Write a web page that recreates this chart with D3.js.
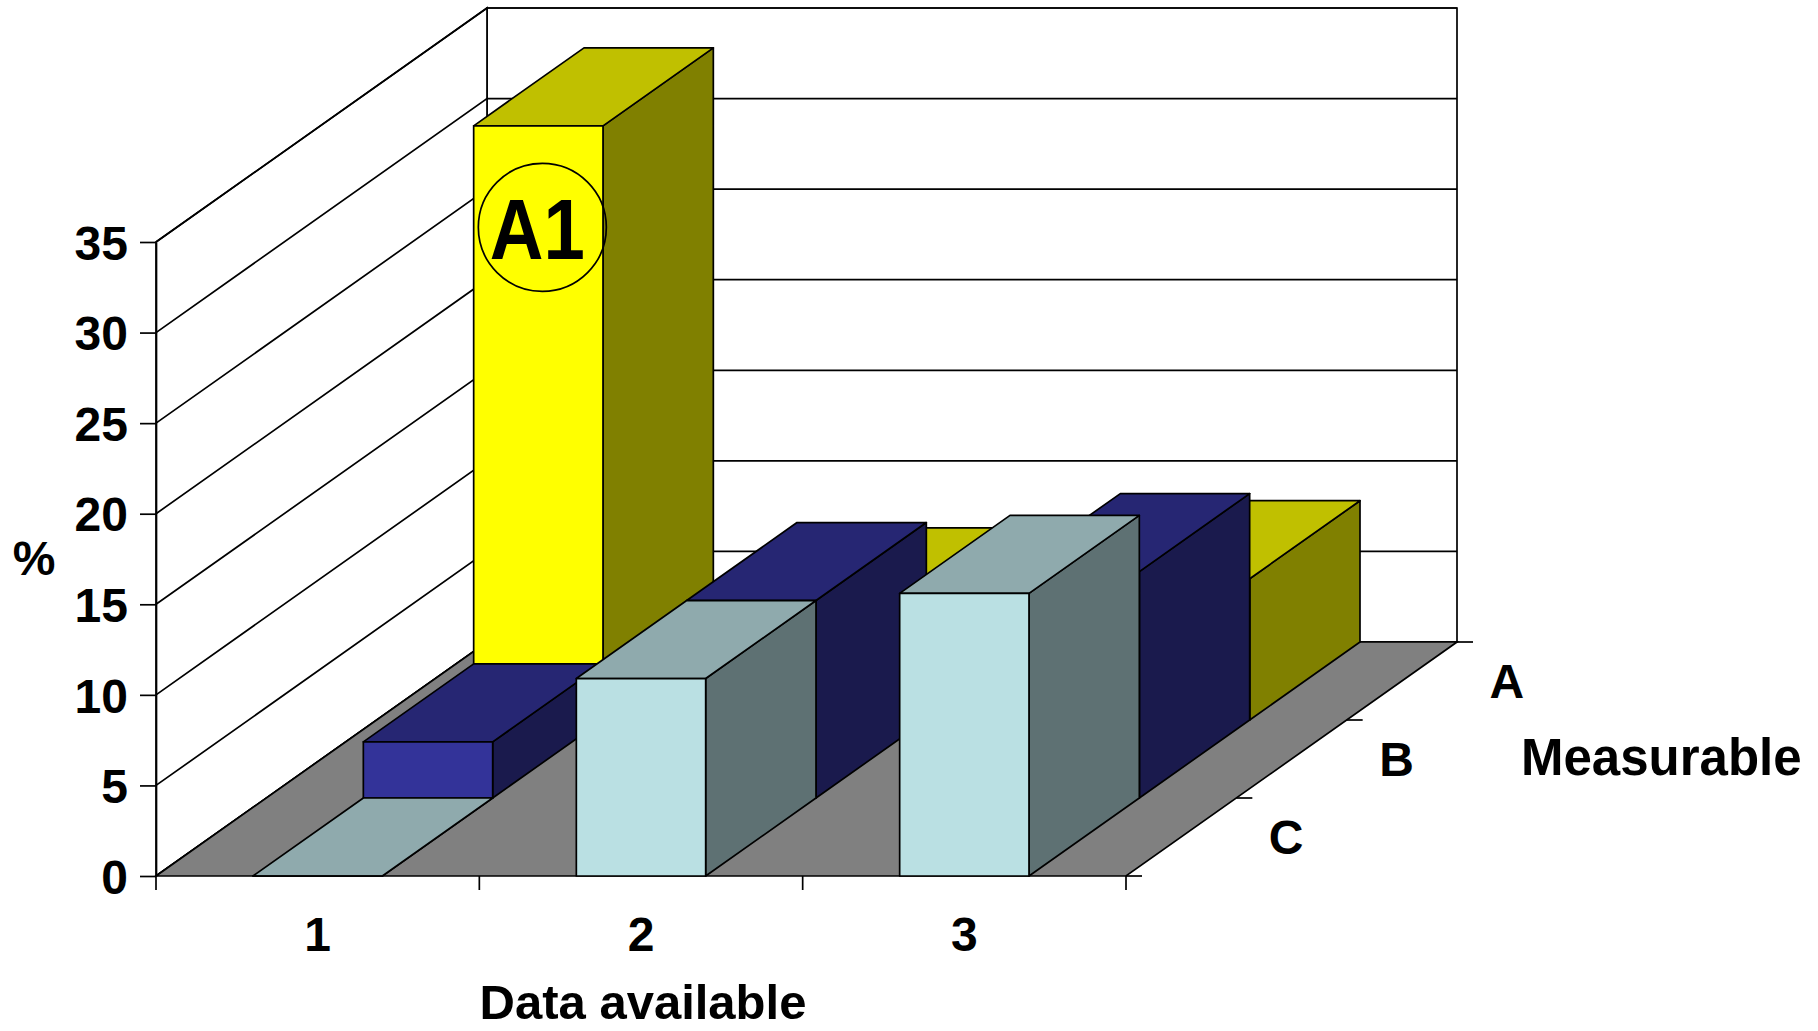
<!DOCTYPE html>
<html>
<head>
<meta charset="utf-8">
<script src="https://cdn.jsdelivr.net/npm/d3@7"></script>
<style>
  html, body { margin: 0; padding: 0; background: #fff; }
  svg { display: block; }
  text { font-family: Arial, "Liberation Sans", sans-serif; font-weight: bold; fill: #000; }
</style>
</head>
<body>
<svg id="chart" width="1818" height="1031"></svg>
<script>
// Categories along the front axis and the three rows along the depth axis
const categories = ["1", "2", "3"];
const rows = ["A", "B", "C"];            // back row first
const seriesA = [32.8, 6.3, 7.8];
const seriesB = [3.1, 10.9, 12.5];
const seriesC = [0, 10.9, 15.6];
const yTickValues = [0, 5, 10, 15, 20, 25, 30, 35];
const yAxisTitle = "%";
const xAxisTitle = "Data available";
const zAxisTitle = "Measurable";
const calloutText = "A1";
const calloutLevel = 27.2;               // height on the A1 bar where the callout sits

const seriesByRow = { A: seriesA, B: seriesB, C: seriesC };

const palette = {
  A: { front: "#ffff00", top: "#c0c000", side: "#808000" },
  B: { front: "#333399", top: "#262673", side: "#1a1a4d" },
  C: { front: "#bae0e3", top: "#8faaad", side: "#5e7173" }
};

// Oblique 3-D frame
const frontLeft = 156, frontRight = 1126, baseY = 876;
const depthDX = 331, depthDY = -234;
const wallHeight = 634;
const lineW = 1.7;

const svg = d3.select("#chart");

const xCell = d3.scaleBand().domain(categories).range([frontLeft, frontRight]);
const xBar = d3.scaleBand().domain(categories).range([frontLeft, frontRight])
  .paddingInner(0.6).paddingOuter(0.3);
const zRow = d3.scaleBand().domain(["C", "B", "A"]).range([0, 1]);
const yH = d3.scaleLinear().domain([0, 35]).range([0, wallHeight]);
const yPos = d3.scaleLinear().domain([0, 35]).range([baseY, baseY - wallHeight]);

const proj = (x, d, v) => [x + depthDX * d, baseY + depthDY * d - yH(v)];
const poly = pts => "M" + pts.map(p => p.join(",")).join("L") + "Z";

// Walls
const walls = svg.append("g");
walls.append("path")
  .attr("d", poly([proj(frontLeft, 1, 0), proj(frontRight, 1, 0), proj(frontRight, 1, 35), proj(frontLeft, 1, 35)]))
  .attr("fill", "#fff").attr("stroke", "#000").attr("stroke-width", lineW);
walls.append("path")
  .attr("d", poly([proj(frontLeft, 0, 0), proj(frontLeft, 1, 0), proj(frontLeft, 1, 35), proj(frontLeft, 0, 35)]))
  .attr("fill", "#fff").attr("stroke", "#000").attr("stroke-width", lineW);

// Gridlines on both walls
const grid = svg.append("g").attr("stroke", "#000").attr("stroke-width", lineW).attr("fill", "none");
yTickValues.forEach(v => {
  grid.append("path").attr("d", "M" + proj(frontLeft, 0, v) + "L" + proj(frontLeft, 1, v) + "L" + proj(frontRight, 1, v));
});

// Floor
svg.append("path")
  .attr("d", poly([proj(frontLeft, 0, 0), proj(frontRight, 0, 0), proj(frontRight, 1, 0), proj(frontLeft, 1, 0)]))
  .attr("fill", "#808080").attr("stroke", "#000").attr("stroke-width", lineW);

// Bars, drawn from the back row to the front row
const bars = [];
rows.forEach(r => categories.forEach((c, i) => bars.push({ row: r, cat: c, value: seriesByRow[r][i] })));

const barG = svg.append("g").attr("stroke", "#000").attr("stroke-width", lineW).attr("stroke-linejoin", "round");
bars.forEach(b => {
  const x0 = xBar(b.cat), x1 = x0 + xBar.bandwidth();
  const d0 = zRow(b.row), d1 = d0 + zRow.bandwidth();
  const v = b.value, col = palette[b.row];
  const g = barG.append("g");
  g.append("path").attr("fill", col.side)
    .attr("d", poly([proj(x1, d0, 0), proj(x1, d1, 0), proj(x1, d1, v), proj(x1, d0, v)]));
  g.append("path").attr("fill", col.top)
    .attr("d", poly([proj(x0, d0, v), proj(x1, d0, v), proj(x1, d1, v), proj(x0, d1, v)]));
  g.append("path").attr("fill", col.front)
    .attr("d", poly([proj(x0, d0, 0), proj(x1, d0, 0), proj(x1, d0, v), proj(x0, d0, v)]));
});

// Value axis
const yAxis = svg.append("g")
  .attr("transform", `translate(${frontLeft},0)`)
  .call(d3.axisLeft(yPos).tickValues(yTickValues).tickSize(16).tickSizeOuter(0).tickPadding(12).tickFormat(d3.format("d")));
yAxis.select(".domain").attr("stroke", "#000").attr("stroke-width", lineW);
yAxis.selectAll(".tick line").attr("stroke", "#000").attr("stroke-width", lineW);
yAxis.selectAll(".tick text").style("font-size", "48px").attr("dy", "0.36em");
yAxis.attr("font-family", null).attr("font-size", null);

// Category axis: labels centred under each cell, ticks at cell boundaries
const xAxis = svg.append("g")
  .attr("transform", `translate(0,${baseY})`)
  .call(d3.axisBottom(xCell).tickSize(0).tickPadding(41));
xAxis.select(".domain").remove();
xAxis.selectAll(".tick text").style("font-size", "48px");
xAxis.attr("font-family", null).attr("font-size", null);
const edges = categories.map(c => xCell(c)).concat([frontRight]);
svg.append("g").selectAll("line").data(edges).join("line")
  .attr("x1", d => d).attr("x2", d => d).attr("y1", baseY).attr("y2", baseY + 14)
  .attr("stroke", "#000").attr("stroke-width", lineW);

// Depth axis: ticks at row boundaries along the right floor edge
const zEdges = [0, 1 / 3, 2 / 3, 1];
svg.append("g").selectAll("line").data(zEdges).join("line")
  .attr("x1", d => proj(frontRight, d, 0)[0]).attr("x2", d => proj(frontRight, d, 0)[0] + 16)
  .attr("y1", d => proj(frontRight, d, 0)[1]).attr("y2", d => proj(frontRight, d, 0)[1])
  .attr("stroke", "#000").attr("stroke-width", lineW);
svg.append("g").selectAll("text").data(rows).join("text")
  .attr("x", r => proj(frontRight, zRow(r) + zRow.bandwidth() / 2, 0)[0] + 105)
  .attr("y", r => proj(frontRight, zRow(r) + zRow.bandwidth() / 2, 0)[1] + 17)
  .attr("text-anchor", "middle").style("font-size", "48px")
  .text(r => r);

// Axis titles
svg.append("text").attr("x", 34).attr("y", 575).attr("text-anchor", "middle")
  .style("font-size", "48px").text(yAxisTitle);
svg.append("text").attr("x", (frontLeft + frontRight) / 2 + 2).attr("y", 1019).attr("text-anchor", "middle")
  .style("font-size", "49px").text(xAxisTitle);
svg.append("text").attr("x", 1521).attr("y", 775)
  .style("font-size", "51px").text(zAxisTitle);

// Callout on the tall A1 bar
const cx = proj(xBar("1") + xBar.bandwidth() / 2, zRow("A"), calloutLevel);
svg.append("circle").attr("cx", cx[0] + 4).attr("cy", cx[1]).attr("r", 64)
  .attr("fill", "none").attr("stroke", "#000").attr("stroke-width", lineW);
svg.append("text").attr("x", cx[0] - 1).attr("y", cx[1] + 32).attr("text-anchor", "middle")
  .attr("textLength", 95).attr("lengthAdjust", "spacingAndGlyphs")
  .style("font-size", "86px").text(calloutText);
</script>
</body>
</html>
